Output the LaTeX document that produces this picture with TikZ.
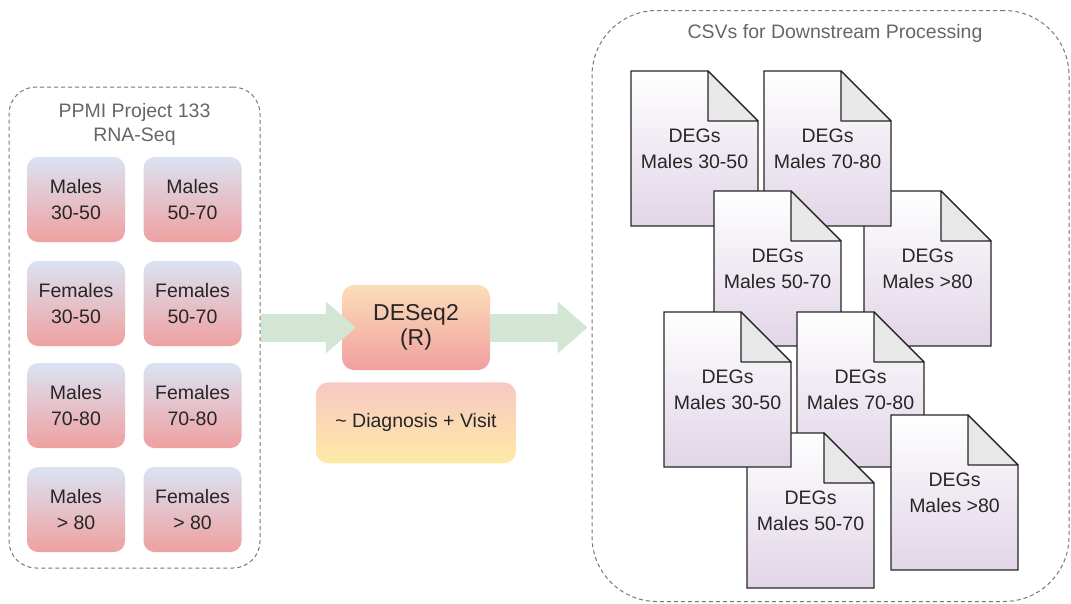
\documentclass[tikz,border=0pt]{standalone}
\usepackage{fontspec}
\setmainfont{Liberation Sans}
\usetikzlibrary{positioning,arrows.meta}

\definecolor{agetop}{HTML}{DAE3F3}
\definecolor{agebot}{HTML}{EFA0A0}
\definecolor{detop}{HTML}{FCDDB8}
\definecolor{debot}{HTML}{F0A0A0}
\definecolor{fmtop}{HTML}{F8C8C4}
\definecolor{fmbot}{HTML}{FEEAA6}
\definecolor{docpurple}{HTML}{E1D5E7}
\definecolor{foldgray}{HTML}{E8E8E8}
\definecolor{arrowgreen}{HTML}{D3E6D3}
\definecolor{groupgray}{HTML}{777777}
\definecolor{titlegray}{HTML}{666666}

\begin{document}
\begin{tikzpicture}[x=1pt,y=-1pt,
  group/.style={draw=groupgray,line width=1pt,dash pattern=on 4pt off 3pt,rounded corners=27pt},
  grouptitle/.style={text=titlegray,align=center,font=\fontsize{19.5}{24}\selectfont},
  agebox/.style={rounded corners=11pt,top color=agetop,bottom color=agebot,
    minimum width=98pt,minimum height=85pt,align=center,text=black!85,
    font=\fontsize{19.5}{26}\selectfont},
  toolbox/.style={rounded corners=12pt,top color=detop,bottom color=debot,
    minimum width=148pt,minimum height=85pt,align=center,text=black!85,
    font=\fontsize{23}{25}\selectfont},
  formulabox/.style={rounded corners=12pt,top color=fmtop,bottom color=fmbot,
    minimum width=200pt,minimum height=81pt,text=black!85,
    font=\fontsize{19.5}{24}\selectfont},
  bigarrow/.style={draw=arrowgreen,line width=28pt,
    -{Triangle[width=52pt,length=30pt,line width=0pt]}},
  docshade/.style={draw=black!85,line width=1.2pt,top color=white,bottom color=docpurple},
  docfold/.style={draw=black!85,line width=1.2pt,line join=round,fill=foldgray},
  doctext/.style={align=center,text=black!85,font=\fontsize{19.5}{26}\selectfont}]

\useasboundingbox (0,0) rectangle (1071,603);

% the two groups
\node[group,minimum width=251pt,minimum height=481pt] (ppmi) at (134.5,327.5) {};
\node[grouptitle] at (134.5,124) (ppmititle) {PPMI Project 133\\RNA-Seq};
\node[group,rounded corners=65pt,minimum width=477pt,minimum height=591pt] (csvs) at (830.5,306) {};
\node[grouptitle] at (835,33) (csvstitle) {CSVs for Downstream Processing};

% samples
\foreach \nm/\px/\py/\txt in {m3050/76/199.5/{Males\\30-50},m5070/192.5/199.5/{Males\\50-70},
    f3050/76/303.5/{Females\\30-50},f5070/192.5/303.5/{Females\\50-70},
    m7080/76/405.5/{Males\\70-80},f7080/192.5/405.5/{Females\\70-80},
    m80/76/509.5/{Males\\> 80},f80/192.5/509.5/{Females\\> 80}}
  \node[agebox] (\nm) at (\px,\py) {\txt};

% DESeq2
\node[toolbox] (deseq) at (416,327.5) {DESeq2\\(R)};
\node[formulabox,below=12pt of deseq] (formula) {\textasciitilde{} Diagnosis + Visit};

\draw[bigarrow] (ppmi.east) -- ([xshift=14pt]deseq.west);
\draw[bigarrow] (deseq.east) -- ([xshift=-4pt]deseq.east -| csvs.west);

% output files
\foreach \nm/\px/\py/\txt in {deg4/864/191/{Males >80},deg1/631/71/{Males 30-50},
    deg2/764/71/{Males 70-80},deg3/714/191/{Males 50-70},deg6/797/312/{Males 70-80},
    deg7/747/433/{Males 50-70},deg5/664/312/{Males 30-50},deg8/891/415/{Males >80}} {
  \shadedraw[docshade] (\px,\py) -- ++(77,0) -- ++(50,50) -- ++(0,105) -- ++(-127,0) -- cycle;
  \filldraw[docfold] (\px+77,\py) -- ++(0,50) -- ++(50,0) -- cycle;
  \node[doctext] (\nm) at (\px+63.5,\py+77.5) {DEGs\\\txt};
}
\end{tikzpicture}
\end{document}
